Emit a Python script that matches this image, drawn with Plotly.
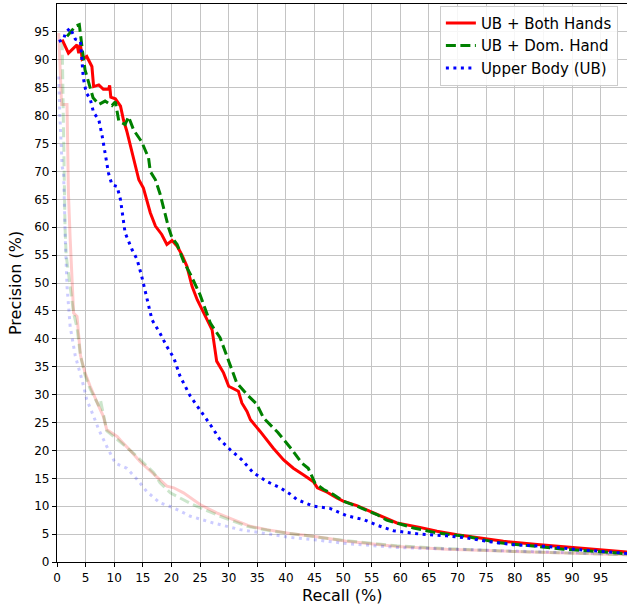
import plotly.graph_objects as go

# ---- data ----
both_x = [0.9, 2.0, 2.9, 3.5, 3.8, 4.1, 4.4, 5.2, 6.1, 6.4, 7.3, 8.1, 9.0, 9.2, 9.4, 10.2, 11.1, 11.6, 12.2,
          12.8, 13.7, 14.3, 15.1, 15.7, 16.3, 17.2, 18.3, 19.2, 20.1, 21.0, 21.8, 22.7, 23.6, 24.5, 25.9,
          27.1, 27.6, 27.9, 29.1, 30.0, 31.7, 32.3, 33.2, 33.8, 35.5, 37.8, 39.6, 41.3, 43.1, 44.8, 45.5,
          47.2, 48.9, 50.0, 52.4, 55.9, 59.4, 63.4, 66.4, 69.9, 73.9, 78.0, 84.4, 90.2, 94.9, 100.0]
both_y = [93.6, 91.2, 92.1, 92.7, 91.2, 92.7, 90.1, 90.6, 88.8, 85.2, 85.5, 84.7, 84.7, 85.4, 83.3, 83.0,
          81.7, 79.3, 77.2, 74.8, 70.9, 68.5, 67.0, 64.9, 62.6, 60.2, 58.7, 56.9, 57.6, 56.6, 55.1, 53.0,
          49.4, 47.0, 44.0, 41.6, 38.1, 36.0, 33.9, 31.5, 30.6, 28.5, 27.0, 25.5, 23.4, 20.4, 18.3, 16.8,
          15.6, 14.4, 13.3, 12.5, 11.5, 10.9, 10.1, 8.6, 7.0, 6.2, 5.5, 4.9, 4.3, 3.7, 3.1, 2.6, 2.2, 1.75]

dom_x = [1.75, 2.4, 3.2, 3.9, 4.2, 4.5, 4.9, 5.5, 5.8, 6.3, 7.3, 8.4, 9.6, 10.2, 10.8, 11.9, 12.5, 13.4,
         14.8, 16.0, 16.3, 17.2, 18.0, 18.9, 19.5, 20.1, 21.0, 22.1, 23.3, 25.0, 26.8, 28.5, 30.3, 31.4,
         33.2, 34.9, 36.1, 38.6, 41.0, 42.8, 43.9, 45.1, 46.6, 48.3, 50.0, 52.4, 55.9, 57.6, 62.3, 66.4,
         71.6, 76.8, 82.7, 88.5, 94.3, 100.0]
dom_y = [94.2, 95.1, 96.0, 96.3, 93.3, 91.2, 88.2, 85.9, 84.7, 83.2, 82.0, 82.6, 81.8, 82.5, 79.0, 78.4,
         79.8, 77.4, 75.3, 72.4, 70.0, 68.5, 66.0, 62.3, 59.9, 58.1, 56.9, 53.9, 51.6, 47.9, 42.8, 40.2,
         35.4, 32.1, 30.0, 28.3, 25.8, 23.2, 20.2, 17.7, 16.8, 14.1, 13.0, 12.1, 10.9, 10.0, 8.5, 7.5,
         6.1, 5.2, 4.6, 3.5, 2.9, 2.3, 1.9, 1.45]

ub_x = [0.3, 1.15, 1.45, 2.3, 3.2, 4.1, 4.4, 4.6, 5.1, 5.8, 6.4, 7.3, 7.9, 8.4, 9.0, 9.6, 10.5, 11.1,
        11.4, 11.9, 13.1, 14.0, 14.8, 15.7, 16.6, 18.0, 19.2, 20.4, 21.5, 23.3, 25.0, 26.8, 28.5, 30.3,
        32.3, 34.3, 36.7, 39.0, 40.7, 41.9, 44.8, 47.7, 50.6, 53.6, 55.9, 58.8, 63.4, 68.1, 71.6, 75.1,
        79.7, 85.6, 91.4, 100.0]
ub_y = [93.3, 93.6, 94.8, 95.7, 93.7, 93.3, 89.4, 86.7, 84.1, 83.0, 80.5, 79.3, 76.3, 73.0, 69.7, 67.6,
        67.3, 64.9, 62.6, 59.0, 56.0, 54.2, 51.2, 47.0, 43.4, 41.0, 38.6, 36.6, 33.3, 29.7, 27.3, 24.6,
        21.9, 20.1, 18.3, 16.0, 14.4, 13.3, 12.2, 11.2, 10.0, 9.6, 8.3, 7.6, 6.6, 5.6, 5.0, 4.7, 4.3,
        3.7, 3.1, 2.8, 2.2, 1.5]

# faded (baseline) curves
both_b_x = [0.3, 0.4, 0.5, 0.8, 1.75, 2.0, 2.3, 2.6, 2.9, 3.5, 4.1, 4.9, 5.8, 7.3, 8.1, 8.7, 10.5, 11.1,
            12.8, 14.5, 16.9, 19.2, 20.4, 22.1, 25.0, 27.9, 30.8, 33.8, 36.7, 40.7, 44.8, 50.6, 59.4,
            68.1, 79.7, 91.4, 100.0]
both_b_y = [94.8, 92.0, 88.8, 82.0, 82.0, 66.0, 58.0, 51.0, 44.6, 44.0, 37.0, 33.9, 31.5, 27.9, 26.1,
            23.7, 22.5, 21.8, 20.0, 18.0, 15.7, 13.6, 13.3, 12.4, 10.3, 8.8, 7.6, 6.4, 5.8, 5.1, 4.6,
            3.7, 2.8, 2.3, 1.9, 1.5, 1.3]

dom_b_x = [0.9, 1.0, 1.2, 1.4, 1.6, 2.2, 2.9, 3.5, 4.1, 4.9, 5.8, 7.3, 7.6, 8.1, 8.7, 10.5, 12.8, 14.0,
           16.9, 18.0, 19.8, 23.3, 28.5, 33.2, 37.8, 44.8, 50.6, 59.4, 68.1, 79.7, 91.4, 100.0]
dom_b_y = [93.5, 85.0, 75.0, 60.0, 55.0, 50.0, 44.6, 42.0, 37.0, 33.5, 31.0, 28.0, 29.0, 26.5, 23.5,
           22.0, 20.0, 18.9, 16.0, 14.2, 12.4, 10.5, 8.2, 6.4, 5.5, 4.6, 3.8, 2.9, 2.4, 1.9, 1.5, 1.3]

ub_b_x = [0.3, 0.5, 0.9, 1.15, 1.45, 1.75, 2.3, 3.2, 4.4, 5.2, 6.4, 7.3, 8.7, 10.2, 12.2, 14.0, 15.7,
          18.0, 20.4, 23.3, 27.3, 32.0, 37.8, 40.7, 44.8, 50.6, 59.4, 68.1, 79.7, 91.4, 100.0]
ub_b_y = [87.0, 80.0, 70.9, 69.7, 57.8, 49.4, 42.2, 36.9, 32.5, 29.1, 26.1, 23.7, 20.7, 17.7, 16.8,
          14.8, 12.6, 10.6, 9.7, 8.2, 7.0, 5.8, 4.9, 4.4, 4.0, 3.3, 2.6, 2.3, 1.9, 1.6, 1.45]

series_names = ["UB + Both Hands", "UB + Dom. Hand", "Upper Body (UB)"]
tick_vals = list(range(0, 100, 5))
tick_text = [str(v) for v in tick_vals]

FONT = "DejaVu Sans"
DOT = "3px,4.5px"
DASH = "10px,4.5px"

fig = go.Figure()

# faded curves
fig.add_trace(go.Scatter(x=both_b_x, y=both_b_y, mode="lines", showlegend=False,
                         line=dict(color="rgba(255,0,0,0.2)", width=3)))
fig.add_trace(go.Scatter(x=dom_b_x, y=dom_b_y, mode="lines", showlegend=False,
                         line=dict(color="rgba(0,128,0,0.2)", width=3, dash=DASH)))
fig.add_trace(go.Scatter(x=ub_b_x, y=ub_b_y, mode="lines", showlegend=False,
                         line=dict(color="rgba(0,0,255,0.2)", width=3, dash=DOT)))

# main curves
fig.add_trace(go.Scatter(x=both_x, y=both_y, mode="lines", name=series_names[0],
                         line=dict(color="#ff0000", width=3)))
fig.add_trace(go.Scatter(x=dom_x, y=dom_y, mode="lines", name=series_names[1],
                         line=dict(color="#008000", width=3, dash=DASH)))
fig.add_trace(go.Scatter(x=ub_x, y=ub_y, mode="lines", name=series_names[2],
                         line=dict(color="#0000ff", width=3, dash=DOT)))

axis_common = dict(
    showgrid=True, gridcolor="#c4c4c4", gridwidth=1.2,
    zeroline=False, showline=True, linecolor="black", linewidth=1.3,
    ticks="outside", ticklen=4, tickwidth=1.2, tickcolor="black",
    tickfont=dict(family=FONT, size=12, color="black"),
    tickmode="array", tickvals=tick_vals, ticktext=tick_text,
)

fig.update_layout(
    width=627, height=606,
    margin=dict(l=57, r=0, t=4, b=44),
    paper_bgcolor="white", plot_bgcolor="white",
    font=dict(family=FONT, color="black"),
    xaxis=dict(range=[0, 99.6], mirror=True, **axis_common),
    yaxis=dict(range=[0, 100], mirror=False, **axis_common),
    legend=dict(x=0.984, y=0.997, xanchor="right", yanchor="top",
                bgcolor="rgba(255,255,255,0.85)", bordercolor="#cccccc", borderwidth=1,
                font=dict(family=FONT, size=15, color="black"), itemwidth=30),
    annotations=[
        dict(text="Recall (%)", xref="paper", yref="paper", x=0.5, y=0,
             xanchor="center", yanchor="middle", yshift=-33, showarrow=False,
             font=dict(family=FONT, size=16, color="black")),
        dict(text="Precision (%)", xref="paper", yref="paper", x=0, y=0.5,
             xanchor="center", yanchor="middle", xshift=-42, textangle=-90, showarrow=False,
             font=dict(family=FONT, size=16, color="black")),
    ],
)

fig.write_html("out.html", config={"displayModeBar": False},
               post_script="document.body.style.margin='0';document.body.style.overflow='hidden';")
